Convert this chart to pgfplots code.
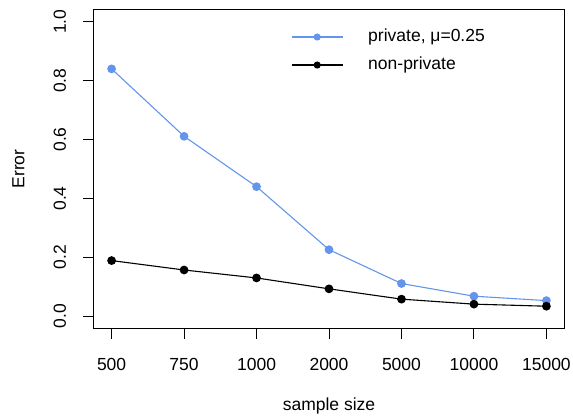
\documentclass[border=0pt]{standalone}
\usepackage{pgfplots}
\pgfplotsset{compat=1.18}
\usepackage{fontspec}
\setmainfont{Liberation Sans}
\definecolor{cblue}{RGB}{100,149,237}
\begin{document}
\fontsize{17.5bp}{20bp}\selectfont
\begin{tikzpicture}
\begin{axis}[
  scale only axis,
  width=470bp, height=318bp,
  xmin=0.757, xmax=7.243,
  ymin=-0.04, ymax=1.04,
  xtick={1,2,3,4,5,6,7},
  xticklabels={500,750,1000,2000,5000,10000,15000},
  ytick={0,0.2,0.4,0.6,0.8,1.0},
  yticklabel style={/pgf/number format/fixed,/pgf/number format/zerofill,/pgf/number format/precision=1, rotate=90, anchor=south},
  /pgf/number format/assume math mode=true,
  tick align=outside,
  xtick pos=bottom, ytick pos=left,
  major tick length=11bp,
  xticklabel shift=13.5bp,
  yticklabel shift=11bp,
  axis line style={line width=1bp},
  every tick/.style={line width=1bp, black},
  xlabel={sample size},
  ylabel={Error},
  xlabel style={at={(axis description cs:0.5,-0.245)}, anchor=center},
  ylabel style={at={(axis description cs:-0.161,0.5)}, anchor=center},
  legend cell align=left,
  legend style={draw=none, fill=none, at={(axis description cs:0.419,0.871)}, anchor=west,
    inner xsep=0pt, inner ysep=0pt,
    nodes={inner xsep=0pt, inner ysep=0pt, text height=12bp, text depth=4bp},
    row sep=12bp,
    /tikz/every odd column/.append style={column sep=25bp}},
  legend image code/.code={\draw[mark repeat=2,mark phase=2,#1,mark size=3bp] plot coordinates {(0bp,0bp) (25.5bp,0bp) (51bp,0bp)};},
]
\addplot[cblue, line width=1.1bp, mark=*, mark size=3.8bp, mark options={fill=cblue, draw=cblue}] coordinates {
(1,0.840) (2,0.611) (3,0.440) (4,0.226) (5,0.111) (6,0.068) (7,0.053)};
\addlegendentry{private, μ=0.25}
\addplot[black, line width=1.1bp, mark=*, mark size=3.8bp, mark options={fill=black}] coordinates {
(1,0.189) (2,0.157) (3,0.130) (4,0.093) (5,0.058) (6,0.041) (7,0.034)};
\addlegendentry{non-private}
\end{axis}
\pgfresetboundingbox
\path[use as bounding box] (-94bp,-90bp) rectangle (479bp,328bp);
\end{tikzpicture}
\end{document}
